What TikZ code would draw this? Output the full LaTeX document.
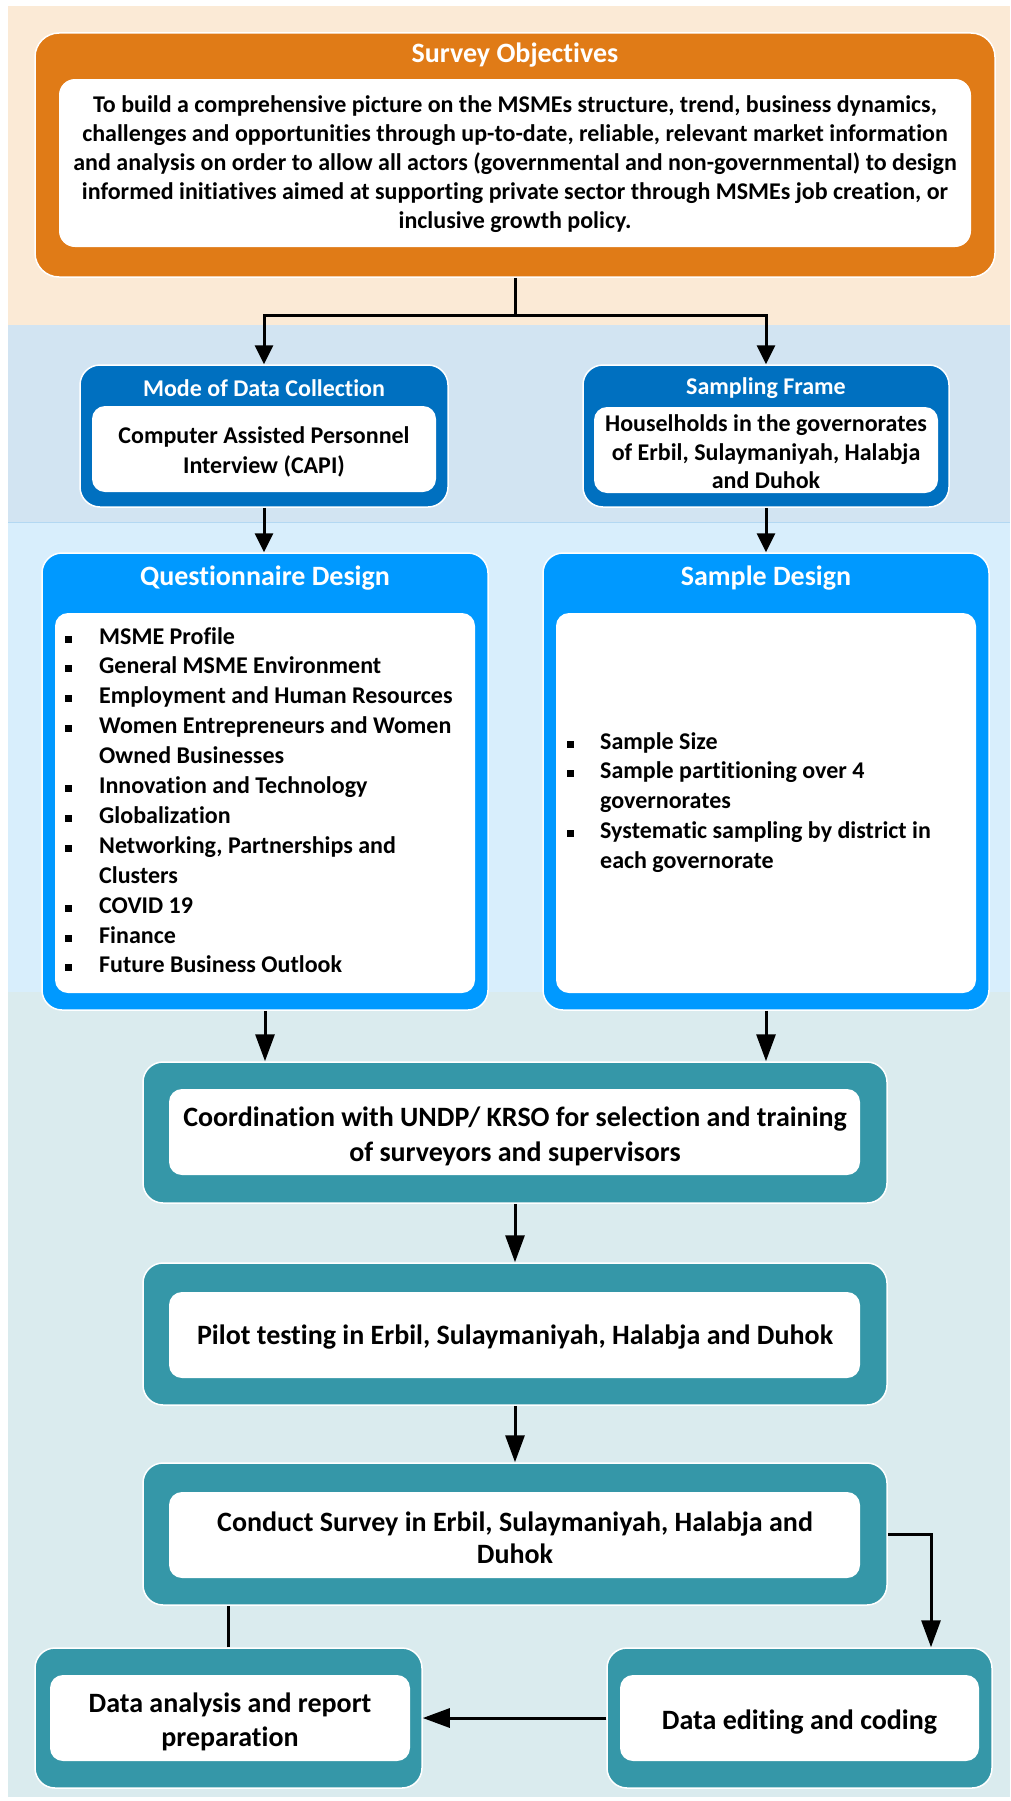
\documentclass[tikz,border=0pt]{standalone}
\usepackage{fontspec}
\setmainfont{Carlito}[Ligatures=NoCommon]
\usetikzlibrary{arrows.meta,calc}
\definecolor{bgpeach}{HTML}{FBEAD6}
\definecolor{bgblueA}{HTML}{D2E4F2}
\definecolor{bgblueB}{HTML}{D8EEFC}
\definecolor{bgteal}{HTML}{DAEBEE}
\definecolor{bandline}{HTML}{B3D8F2}
\definecolor{orangebox}{HTML}{E07B17}
\definecolor{darkblue}{HTML}{0070C0}
\definecolor{brightblue}{HTML}{0099FF}
\definecolor{tealbox}{HTML}{3597A8}
\tikzset{
  outerbox/.style={draw=white, line width=1.5pt, rounded corners=20pt, inner sep=0pt},
  innerbox/.style={fill=white, rounded corners=13pt, inner sep=0pt},
  titletxt/.style={text=white, inner sep=0pt, font=\fontsize{#1}{#1}\selectfont\bfseries},
  bodytxt/.style={text=black, inner sep=0pt, align=center, font=\fontsize{#1}{#1}\selectfont\bfseries},
  itemtxt/.style={text=black, inner sep=0pt, anchor=west, text height=15pt, text depth=5pt, font=\fontsize{24}{29}\selectfont\bfseries},
  bulletsq/.style={fill=black, minimum size=7pt, inner sep=0pt},
  conn/.style={line width=3pt, draw=black},
  arrA/.style={conn, -{Triangle[length=19pt,width=18pt]}},
  arrB/.style={conn, -{Triangle[length=27pt,width=19pt]}}
}
\begin{document}
\begin{tikzpicture}[x=1pt,y=-1pt]
\useasboundingbox (0,0) rectangle (1010,1801);
\fill[white] (0,0) rectangle (1010,1801);
% background bands
\fill[bgpeach] (8,6) rectangle (1010,325);
\fill[bgblueA] (8,325) rectangle (1010,522);
\fill[bgblueB] (8,522) rectangle (1010,992);
\fill[bgteal] (8,992) rectangle (1010,1797);
\draw[bandline, line width=1pt] (8,522) -- (1010,522);

% Survey objectives
\node[outerbox, fill=orangebox, rounded corners=24pt, minimum width=960pt, minimum height=244pt] (obj) at (515,155) {};
\node[titletxt=28] (objT) at (515,55) {Survey Objectives};
\node[innerbox, rounded corners=16pt, minimum width=912pt, minimum height=168pt] (objI) at (515,163) {};
\node[bodytxt=24, font=\fontsize{24}{29}\selectfont\bfseries] (objX) at (515,164) {To build a comprehensive picture on the MSMEs structure, trend, business dynamics,\\challenges and opportunities through up-to-date, reliable, relevant market information\\and analysis on order to allow all actors (governmental and non-governmental) to design\\informed initiatives aimed at supporting private sector through MSMEs job creation, or\\inclusive growth policy.};

% Mode of data collection
\node[outerbox, fill=darkblue, minimum width=368pt, minimum height=142pt] (mode) at (264,436) {};
\node[titletxt=24] (modeT) at (264,388) {Mode of Data Collection};
\node[innerbox, minimum width=344pt, minimum height=86pt] (modeI) at (264,449) {};
\node[bodytxt=24, font=\fontsize{24}{30}\selectfont\bfseries] (modeX) at (264,452) {Computer Assisted Personnel\\Interview (CAPI)};

% Sampling frame
\node[outerbox, fill=darkblue, minimum width=366pt, minimum height=142pt] (frame) at (766,436) {};
\node[titletxt=24] (frameT) at (766,388) {Sampling Frame};
\node[innerbox, minimum width=344pt, minimum height=86pt] (frameI) at (766,450) {};
\node[bodytxt=24, font=\fontsize{24}{28.5}\selectfont\bfseries] (frameX) at (766,452) {Houselholds in the governorates\\of Erbil, Sulaymaniyah, Halabja\\and Duhok};

% Questionnaire design
\node[outerbox, fill=brightblue, minimum width=446pt, minimum height=457pt] (quest) at (265,781.5) {};
\node[titletxt=28] (questT) at (265,578) {Questionnaire Design};
\node[innerbox, minimum width=420pt, minimum height=380pt] (questI) at (265,803) {};
\foreach \t [count=\i from 0] in {MSME Profile,General MSME Environment,Employment and Human Resources,Women Entrepreneurs and Women,Owned Businesses,Innovation and Technology,Globalization,{Networking, Partnerships and},Clusters,COVID 19,Finance,Future Business Outlook}{
  \node[itemtxt] (q\i) at (99,639+\i*29.9) {\t};
}
\foreach \i in {0,1,2,3,5,6,7,9,10,11}{
  \node[bulletsq] (qb\i) at (68,639+\i*29.9) {};
}

% Sample design
\node[outerbox, fill=brightblue, minimum width=446pt, minimum height=457pt] (sample) at (766,781.5) {};
\node[titletxt=28] (sampleT) at (766,578) {Sample Design};
\node[innerbox, minimum width=420pt, minimum height=380pt] (sampleI) at (766,803) {};
\foreach \t [count=\i from 0] in {Sample Size,Sample partitioning over 4,governorates,Systematic sampling by district in,each governorate}{
  \node[itemtxt] (s\i) at (600,744+\i*29.75) {\t};
}
\foreach \i in {0,1,3}{
  \node[bulletsq] (sb\i) at (570,744+\i*29.75) {};
}

% Coordination
\node[outerbox, fill=tealbox, minimum width=744pt, minimum height=141pt] (coord) at (515,1132.5) {};
\node[innerbox, minimum width=691pt, minimum height=86pt] (coordI) at (514.5,1132) {};
\node[bodytxt=28, font=\fontsize{28}{35}\selectfont\bfseries] (coordX) at (515,1136) {Coordination with UNDP/ KRSO for selection and training\\of surveyors and supervisors};

% Pilot
\node[outerbox, fill=tealbox, minimum width=744pt, minimum height=142pt] (pilot) at (515,1334) {};
\node[innerbox, minimum width=691pt, minimum height=86pt] (pilotI) at (514.5,1335) {};
\node[bodytxt=28] (pilotX) at (515,1337) {Pilot testing in Erbil, Sulaymaniyah, Halabja and Duhok};

% Conduct
\node[outerbox, fill=tealbox, minimum width=744pt, minimum height=142pt] (conduct) at (515,1534) {};
\node[innerbox, minimum width=691pt, minimum height=86pt] (conductI) at (514.5,1535) {};
\node[bodytxt=28, font=\fontsize{28}{32}\selectfont\bfseries] (conductX) at (515,1538) {Conduct Survey in Erbil, Sulaymaniyah, Halabja and\\Duhok};

% Data analysis
\node[outerbox, fill=tealbox, minimum width=387pt, minimum height=140pt] (analysis) at (228.5,1718) {};
\node[innerbox, minimum width=360pt, minimum height=86pt] (analysisI) at (230,1718) {};
\node[bodytxt=28, font=\fontsize{28}{34}\selectfont\bfseries] (analysisX) at (230,1722) {Data analysis and report\\preparation};

% Data editing
\node[outerbox, fill=tealbox, minimum width=385pt, minimum height=140pt] (editing) at (799.5,1718) {};
\node[innerbox, minimum width=359pt, minimum height=86pt] (editingI) at (799.5,1718) {};
\node[bodytxt=28] (editingX) at (799.5,1722) {Data editing and coding};

% connectors
\coordinate (split) at (515,315);
\draw[conn] (obj.south) -- (split);
\draw[arrA] (split) -| (mode.north);
\draw[arrA] (split) -| (frame.north);
\draw[arrA] (mode.south) -- (mode.south |- quest.north);
\draw[arrA] (frame.south) -- (frame.south |- sample.north);
\draw[arrB] (quest.south) -- (quest.south |- coord.north);
\draw[arrB] (sample.south) -- (sample.south |- coord.north);
\draw[arrB] (coord.south) -- (pilot.north);
\draw[arrB] (pilot.south) -- (conduct.north);
\path (editing.north) ++(131.5,0) coordinate (edin);
\draw[arrB] (conduct.east) -| (edin);
\draw[conn, line width=2.5pt] (analysis.north) -- (analysis.north |- conduct.south);
\draw[arrB] (editing.west) -- (analysis.east);
\end{tikzpicture}
\end{document}
